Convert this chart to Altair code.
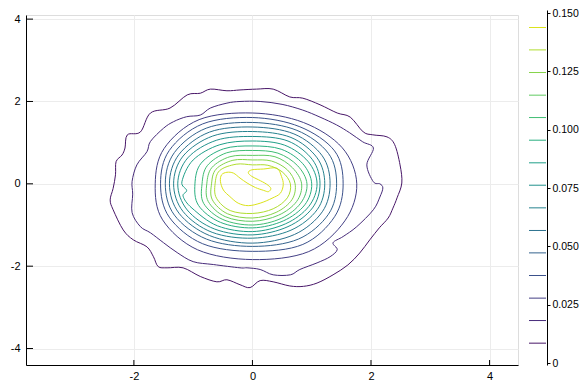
import altair as alt
import pandas as pd
import numpy as np

# contour levels (from colour bar)
levels = [0.0085, 0.0182, 0.0278, 0.0375, 0.0472, 0.0568, 0.0665, 0.0762,
          0.0858, 0.0955, 0.1052, 0.1148, 0.1245, 0.1342, 0.1438]

# outermost contour, traced
l1_x = [-0.71, -0.43, -0.21, 0.07, 0.35, 0.63, 0.85, 1.14, 1.43, 1.65, 1.87, 2.03, 2.27, 2.40,
        2.49, 2.52, 2.44, 2.37, 2.29, 2.14, 1.98, 1.81, 1.61, 1.36, 1.09, 0.86, 0.63, 0.35, 0.13,
        -0.04, -0.21, -0.43, -0.60, -0.88, -1.17, -1.44, -1.59, -1.67, -1.78, -2.01, -2.18,
        -2.35, -2.40, -2.35, -2.31, -2.30, -2.20, -2.15, -2.11, -1.89, -1.72, -1.39, -1.10, -0.88]
l1_y = [2.30, 2.26, 2.28, 2.30, 2.30, 2.11, 2.08, 1.92, 1.72, 1.62, 1.26, 1.19, 1.14, 0.95,
        0.46, 0.02, -0.34, -0.59, -0.83, -1.07, -1.36, -1.68, -1.97, -2.21, -2.41, -2.49, -2.48,
        -2.38, -2.35, -2.52, -2.45, -2.33, -2.38, -2.25, -2.04, -2.04, -2.01, -1.77, -1.53, -1.36,
        -1.12, -0.63, -0.39, -0.11, 0.22, 0.54, 0.70, 0.87, 1.19, 1.26, 1.72, 1.84, 2.16, 2.20]

# second contour, traced (notch on the right)
l2_x = [0.13, 0.50, 0.85, 1.14, 1.42, 1.64, 1.86, 2.04, 1.93, 2.04, 2.15, 2.20, 2.15, 2.04,
        1.76, 1.53, 1.36, 1.43, 1.31, 1.09, 0.80, 0.64, 0.35, 0.13, -0.09, -0.21, -0.66, -1.00,
        -1.27, -1.50, -1.72, -1.89, -2.03, -2.02, -2.03, -1.95, -1.78, -1.72, -1.50, -1.33,
        -1.11, -0.88, -0.71, -0.43, -0.21]
l2_y = [2.00, 1.93, 1.79, 1.62, 1.43, 1.24, 1.02, 0.87, 0.46, 0.05, 0.00, -0.10, -0.32, -0.63,
        -1.04, -1.28, -1.43, -1.60, -1.77, -1.92, -2.08, -2.21, -2.21, -2.08, -2.04, -2.04, -1.96,
        -1.89, -1.67, -1.43, -1.19, -1.04, -0.70, -0.25, 0.06, 0.46, 0.78, 1.03, 1.35, 1.51,
        1.63, 1.67, 1.84, 1.96, 2.00]

# ninth contour, traced (small notch on the left)
l9_x = [1.09, 0.94, 0.54, 0.00, -0.55, -1.00, -1.19, -1.11, -1.17, -1.02, -0.59, 0.00, 0.56, 0.95]
l9_y = [0.00, 0.54, 0.94, 1.04, 0.95, 0.58, 0.05, -0.16, -0.30, -0.59, -1.02, -1.16, -0.97, -0.55]

# innermost contour, traced
l15_x = [-0.01, 0.19, 0.41, 0.49, 0.52, 0.47, 0.33, 0.13, -0.07, -0.24, -0.38, -0.49, -0.54,
         -0.52, -0.43, -0.32, -0.21, -0.09, 0.05, 0.19, 0.27, 0.31, 0.24, 0.10, -0.01, -0.07]
l15_y = [0.34, 0.36, 0.38, 0.18, -0.02, -0.23, -0.35, -0.47, -0.53, -0.47, -0.31, -0.15, 0.06,
         0.22, 0.28, 0.26, 0.14, 0.02, -0.09, -0.16, -0.19, -0.11, -0.01, 0.10, 0.18, 0.27]

# other contours: radius read at these directions (degrees)
angles = [0, 30, 60, 90, 120, 150, 180, 210, 240, 270, 300, 330]
r_l3 = [1.76, 1.75, 1.72, 1.72, 1.80, 1.72, 1.64, 1.75, 1.85, 1.84, 1.90, 1.80]
r_l4 = [1.53, 1.60, 1.60, 1.61, 1.68, 1.62, 1.55, 1.62, 1.68, 1.64, 1.70, 1.60]
r_l5 = [1.42, 1.48, 1.50, 1.49, 1.56, 1.52, 1.47, 1.52, 1.55, 1.52, 1.55, 1.48]
r_l6 = [1.31, 1.36, 1.40, 1.38, 1.45, 1.43, 1.40, 1.43, 1.45, 1.44, 1.42, 1.36]
r_l7 = [1.22, 1.26, 1.30, 1.27, 1.34, 1.35, 1.33, 1.35, 1.36, 1.32, 1.30, 1.26]
r_l8 = [1.14, 1.17, 1.20, 1.15, 1.22, 1.26, 1.26, 1.27, 1.27, 1.24, 1.20, 1.17]
r_l10 = [1.00, 0.98, 0.97, 0.92, 0.98, 1.00, 0.97, 1.05, 1.08, 1.07, 1.04, 1.02]
r_l11 = [0.92, 0.88, 0.86, 0.81, 0.87, 0.88, 0.85, 0.95, 1.00, 1.00, 0.97, 0.94]
r_l12 = [0.83, 0.78, 0.76, 0.69, 0.76, 0.79, 0.77, 0.86, 0.92, 0.91, 0.88, 0.86]
r_l13 = [0.72, 0.68, 0.64, 0.58, 0.66, 0.71, 0.69, 0.78, 0.84, 0.83, 0.80, 0.77]
r_l14 = [0.64, 0.58, 0.52, 0.46, 0.55, 0.64, 0.63, 0.70, 0.75, 0.72, 0.70, 0.68]
polar = {3: r_l3, 4: r_l4, 5: r_l5, 6: r_l6, 7: r_l7, 8: r_l8,
         10: r_l10, 11: r_l11, 12: r_l12, 13: r_l13, 14: r_l14}

x_ticks = [-2, 0, 2, 4]
y_ticks = [-4, -2, 0, 2, 4]
cb_ticks = [0, 0.025, 0.05, 0.075, 0.1, 0.125, 0.15]

rows = []
def add(k, xs, ys):
    for i, (x, y) in enumerate(zip(xs, ys)):
        rows.append({"lid": k, "level": levels[k - 1], "order": i, "x": float(x), "y": float(y)})

add(1, l1_x, l1_y)
add(2, l2_x, l2_y)
add(9, l9_x, l9_y)
add(15, l15_x, l15_y)
th = np.radians(angles)
for k, radii in polar.items():
    r = np.array(radii)
    add(k, r * np.cos(th), r * np.sin(th))
df = pd.DataFrame(rows)

W, H = 492, 350
xdom = [-3.82, 4.48]
ydom = [-4.40, 4.10]
FONT = "Liberation Sans"
cscale = alt.Scale(scheme="viridis", domain=[0, 0.152])

xs = alt.Scale(domain=xdom, nice=False, zero=False)
ys = alt.Scale(domain=ydom, nice=False, zero=False)

lines = alt.Chart(df).mark_line(interpolate="cardinal-closed", strokeWidth=1, clip=True).encode(
    x=alt.X("x:Q", scale=xs, axis=alt.Axis(values=x_ticks, title=None, tickSize=0, labelPadding=5,
                                           grid=True, gridColor="#ececec", domainColor="black",
                                           labelFont=FONT, labelFontSize=11, labelColor="black",
                                           labelExpr="datum.value + ''", labelFlush=False)),
    y=alt.Y("y:Q", scale=ys, axis=alt.Axis(values=y_ticks, title=None, tickSize=0, labelPadding=6,
                                           grid=True, gridColor="#ececec", domainColor="black",
                                           labelFont=FONT, labelFontSize=11, labelColor="black",
                                           labelExpr="datum.value + ''",
                                           orient="left", labelFlush=False)),
    color=alt.Color("level:Q", scale=cscale, legend=None),
    detail="lid:N",
    order="order:Q",
)

xt = alt.Chart(pd.DataFrame({"v": x_ticks})).mark_rule(color="black", strokeWidth=1).encode(
    x=alt.X("v:Q", scale=xs), y=alt.value(H), y2=alt.value(H - 5))
yt = alt.Chart(pd.DataFrame({"v": y_ticks})).mark_rule(color="black", strokeWidth=1).encode(
    y=alt.Y("v:Q", scale=ys), x=alt.value(0), x2=alt.value(7))

main = alt.layer(lines, xt, yt)

cb = alt.Chart(pd.DataFrame({"level": levels})).mark_rule(strokeWidth=1).encode(
    y=alt.Y("level:Q", scale=alt.Scale(domain=[-0.000857, 0.1513], range=[H, -5], nice=False, zero=False),
            axis=alt.Axis(orient="right", offset=29, values=cb_ticks, title=None, grid=False,
                          tickSize=3, labelPadding=2, domainColor="black", tickColor="black",
                          labelFont=FONT, labelFontSize=10.5, labelColor="black",
                          labelExpr="datum.value == 0 ? '0' : format(datum.value, '.3f')",
                          labelFlush=False)),
    x=alt.value(503), x2=alt.value(520),
    color=alt.Color("level:Q", scale=cscale, legend=None),
)

chart = alt.layer(main, cb).resolve_scale(y="independent").properties(
    width=W, height=H,
    autosize=alt.AutoSizeParams(type="none"),
    padding={"left": 18, "top": 7, "right": 61, "bottom": 16},
).configure_view(stroke=None).configure(background="white")

chart.save("out.html", embed_options={"renderer": "svg", "actions": False})
